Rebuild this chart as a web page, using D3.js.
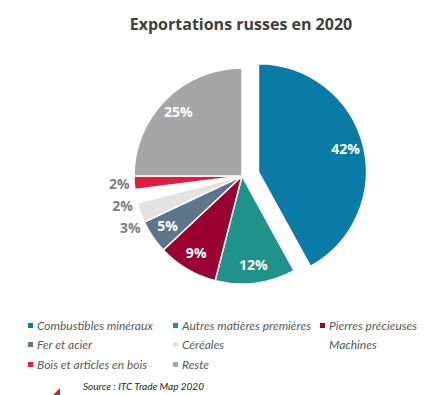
<!DOCTYPE html>
<html>
<head>
<meta charset="utf-8">
<script src="https://cdn.jsdelivr.net/npm/d3@7"></script>
<style>
  body { margin: 0; background: #fff; }
  svg { display: block; }
</style>
</head>
<body>
<div class="chart"></div>
<script>
// data
const categories = ['Combustibles minéraux', 'Autres matières premières', 'Pierres précieuses',
  'Fer et acier', 'Céréales', 'Machines', 'Bois et articles en bois', 'Reste'];
const shares = [42, 12, 9, 5, 3, 2, 2, 25];
const colors = ['#0a7aa6', '#1f938a', '#9a0032', '#5d7689', '#e3e3e3', '#ffffff', '#e31b3d', '#a6a6a6'];
const outsideLabel = [false, false, false, false, true, true, true, false];
const title = 'Exportations russes en 2020';
const source = 'Source : ITC Trade Map 2020';

const width = 424;
const height = 395;
const cx = 242, cy = 176, radius = 108;
const explode = 17;
const outR = 123;

const data = categories.map((c, i) => ({name: c, value: shares[i], color: colors[i], outside: outsideLabel[i]}));

const svg = d3.select('.chart')
  .append('svg')
  .attr('width', width)
  .attr('height', height);

svg.append('text')
  .attr('x', 241)
  .attr('y', 30)
  .attr('text-anchor', 'middle')
  .attr('font-family', 'Open Sans, sans-serif')
  .attr('font-weight', 'bold')
  .attr('font-size', 16)
  .attr('fill', '#404040')
  .text(title);

const pie = d3.pie().sort(null).value(d => d.value);
const arcs = pie(data);
const arc = d3.arc().innerRadius(0).outerRadius(radius);
const labelArc = d3.arc().innerRadius(90).outerRadius(90);
const outArc = d3.arc().innerRadius(outR).outerRadius(outR);

// offset of a slice (only the first one is pulled out)
function shift(d, i) {
  if (i !== 0) return [0, 0];
  const a = (d.startAngle + d.endAngle) / 2;
  return [explode * Math.sin(a), -explode * Math.cos(a)];
}

// label positions; outside labels are spread so they don't collide
arcs.forEach((d, i) => {
  const p = d.data.outside ? outArc.centroid(d) : labelArc.centroid(d);
  const s = shift(d, i);
  d.lx = p[0] + s[0];
  d.ly = p[1] + s[1];
});
const outs = arcs.filter(d => d.data.outside).sort((a, b) => a.ly - b.ly);
for (let k = 1; k < outs.length; k++) {
  if (outs[k].ly < outs[k - 1].ly + 22) {
    outs[k].ly = outs[k - 1].ly + 22;
    outs[k].lx = -Math.sqrt(Math.max(outR * outR - outs[k].ly * outs[k].ly, 0));
  }
}

const g = svg.append('g').attr('transform', `translate(${cx},${cy})`);

g.selectAll('path')
  .data(arcs)
  .enter()
  .append('path')
  .attr('d', arc)
  .attr('transform', (d, i) => `translate(${shift(d, i)})`)
  .attr('fill', d => d.data.color)
  .attr('stroke', '#fff')
  .attr('stroke-width', 1.5);

g.selectAll('text.lbl')
  .data(arcs)
  .enter()
  .append('text')
  .attr('class', 'lbl')
  .attr('transform', d => `translate(${d.lx},${d.ly})`)
  .attr('text-anchor', 'middle')
  .attr('dy', '0.35em')
  .attr('font-family', 'Open Sans, sans-serif')
  .attr('font-weight', 'bold')
  .attr('font-size', 14)
  .attr('fill', d => d.data.outside ? '#7f7f7f' : '#fff')
  .text(d => d.data.value + '%');

// legend
const legendCols = [30, 175, 322];
const legendRows = [326, 345, 365];
const legend = svg.selectAll('g.legend')
  .data(data)
  .enter()
  .append('g')
  .attr('class', 'legend')
  .attr('transform', (d, i) => `translate(${legendCols[i % 3]},${legendRows[Math.floor(i / 3)]})`);

legend.append('rect')
  .attr('x', -2)
  .attr('y', -3)
  .attr('width', 5)
  .attr('height', 5)
  .attr('fill', d => d.color);

legend.append('text')
  .attr('x', 7)
  .attr('dy', '0.35em')
  .attr('font-family', 'Lato, sans-serif')
  .attr('font-style', 'italic')
  .attr('font-size', 12)
  .attr('fill', '#595959')
  .text(d => d.name);

svg.append('text')
  .attr('x', 83)
  .attr('y', 390)
  .attr('font-family', 'Lato, sans-serif')
  .attr('font-style', 'italic')
  .attr('font-size', 10)
  .attr('fill', '#262626')
  .text(source);

// small red corner mark near the source
svg.append('path')
  .attr('d', 'M53,395 L60,388 L60,395 Z')
  .attr('fill', '#d0202f');
</script>
</body>
</html>
